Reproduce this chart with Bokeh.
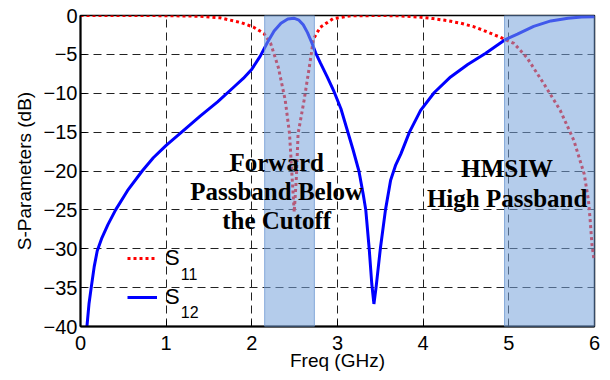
from bokeh.plotting import figure
from bokeh.models import FixedTicker, BoxAnnotation, Label, Legend, LegendItem, Range1d
from bokeh.embed import file_html
from bokeh.resources import INLINE

# ---- data ----
freq_s11 = [0.0, 0.5, 1.0, 1.4, 1.63, 1.87, 2.02, 2.14, 2.22, 2.31, 2.39, 2.44, 2.47, 2.495,
            2.52, 2.54, 2.61, 2.67, 2.72, 2.80, 2.95, 3.15, 3.5, 3.73, 3.95, 4.12, 4.30, 4.44,
            4.58, 4.70, 4.90, 5.06, 5.21, 5.41, 5.60, 5.76, 5.88, 5.93, 5.95, 5.97, 5.995]
s11_db = [0.0, 0.0, -0.02, -0.1, -0.3, -0.9, -1.5, -2.3, -3.6, -6.7, -10.9, -15.2, -20.8, -25.3,
          -20.8, -15.2, -10.9, -6.7, -3.0, -1.5, -0.4, -0.05, 0.0, -0.05, -0.2, -0.4, -0.7, -1.0,
          -1.4, -1.9, -2.8, -3.6, -5.4, -8.8, -12.2, -16.1, -20.4, -23.8, -26.4, -29.4, -31.5]

freq_s12 = [0.075, 0.10, 0.125, 0.16, 0.195, 0.25, 0.32, 0.41, 0.55, 0.72, 0.85, 1.0, 1.16,
            1.4, 1.6, 1.8, 1.9, 2.0, 2.10, 2.18, 2.26, 2.34, 2.42, 2.49, 2.55, 2.60, 2.65, 2.70,
            2.745, 2.80, 2.88, 2.96, 3.04, 3.11, 3.18, 3.25, 3.30, 3.33, 3.37, 3.40, 3.425,
            3.45, 3.50, 3.56, 3.62, 3.68, 3.74, 3.84, 3.97, 4.13, 4.32, 4.52, 4.73, 4.96,
            5.10, 5.29, 5.49, 5.69, 5.85, 6.0]
s12_db = [-40.0, -37.0, -35.0, -32.3, -30.3, -28.6, -26.9, -25.0, -22.5, -20.0, -18.3, -16.7,
          -15.2, -12.9, -11.1, -9.1, -8.1, -6.9, -5.2, -3.5, -2.0, -1.0, -0.45, -0.35, -0.6,
          -1.2, -2.2, -3.5, -4.8, -6.1, -7.9, -9.8, -12.0, -14.6, -17.2, -20.0, -23.0, -25.0,
          -30.0, -34.5, -37.1, -35.0, -30.0, -25.0, -21.2, -19.2, -17.8, -15.0, -12.2, -9.9,
          -7.9, -6.3, -4.85, -3.1, -2.4, -1.4, -0.7, -0.35, -0.2, -0.15]

x_ticks = [0, 1, 2, 3, 4, 5, 6]
y_ticks = [-40, -35, -30, -25, -20, -15, -10, -5, 0]
band_forward = [2.15, 2.73]
band_hmsiw = [4.95, 6.0]

SANS = "Liberation Sans"
SERIF = "Liberation Serif"

p = figure(width=610, height=380,
           x_range=Range1d(0, 6), y_range=Range1d(-40, 0),
           output_backend="svg", toolbar_location=None,
           min_border_left=80, min_border_right=16, min_border_top=15, min_border_bottom=54,
           background_fill_color="white", border_fill_color="white")

r11 = p.line(freq_s11, s11_db, line_color="#FF0000", line_width=3, line_dash="3 3")
r12 = p.line(freq_s12, s12_db, line_color="#0000FF", line_width=3)

# axes
for ax in (p.xaxis[0], p.yaxis[0]):
    ax.major_tick_in = 6
    ax.major_tick_out = 0
    ax.minor_tick_line_color = None
    ax.axis_line_width = 2
    ax.axis_line_color = "black"
    ax.major_tick_line_color = "black"
    ax.major_label_text_font = SANS
    ax.major_label_text_font_size = "20px"
    ax.major_label_text_color = "black"
    ax.axis_label_text_font = SANS
    ax.axis_label_text_font_size = "19px"
    ax.axis_label_text_font_style = "normal"
    ax.axis_label_text_color = "black"

p.xaxis.ticker = FixedTicker(ticks=x_ticks)
p.yaxis.ticker = FixedTicker(ticks=y_ticks)
p.xaxis.axis_label = "Freq (GHz)"
p.yaxis.axis_label = "S-Parameters (dB)"
p.xaxis.major_label_standoff = 9
p.yaxis.major_label_standoff = 3
p.xaxis.axis_label_standoff = -3
p.yaxis.axis_label_standoff = 6

# grid
p.xgrid.ticker = FixedTicker(ticks=x_ticks[1:-1])
p.ygrid.ticker = FixedTicker(ticks=y_ticks[1:-1])
for g in (p.xgrid[0], p.ygrid[0]):
    g.grid_line_color = "#222222"
    g.grid_line_dash = "8 5"
    g.grid_line_width = 1

p.outline_line_color = "black"
p.outline_line_width = 1.5

# shaded passbands
for lo, hi in (band_forward, band_hmsiw):
    p.add_layout(BoxAnnotation(left=lo, right=hi, fill_color="#77A2DB", fill_alpha=0.55,
                               line_color="#6F98D2", line_alpha=0.8, line_width=1))

# text annotations
def note(x, y, t):
    p.add_layout(Label(x=x, y=y, text=t, text_align="center", text_baseline="alphabetic",
                       text_font=SERIF, text_font_style="bold", text_font_size="25px",
                       text_color="black"))

note(2.29, -18.9, "Forward")
note(2.29, -22.7, "Passband Below")
note(2.29, -26.4, "the Cutoff")
note(4.98, -19.7, "HMSIW")
note(4.98, -23.5, "High Passband")

# legend
legend = Legend(items=[LegendItem(label="S", renderers=[r11]),
                       LegendItem(label="S", renderers=[r12])],
                location=(47, 15), border_line_color=None, background_fill_alpha=0,
                padding=0, margin=0, glyph_width=30, glyph_height=28, label_height=28,
                spacing=11, label_standoff=8, label_text_font=SANS,
                label_text_font_size="22px", label_text_color="black")
p.add_layout(legend)

for yy, t in ((-33.2, "11"), (-38.1, "12")):
    p.add_layout(Label(x=1.17, y=yy, text=t, text_baseline="alphabetic",
                       text_font=SANS, text_font_size="16px", text_color="black"))

open("out.html", "w").write(file_html(p, INLINE))
